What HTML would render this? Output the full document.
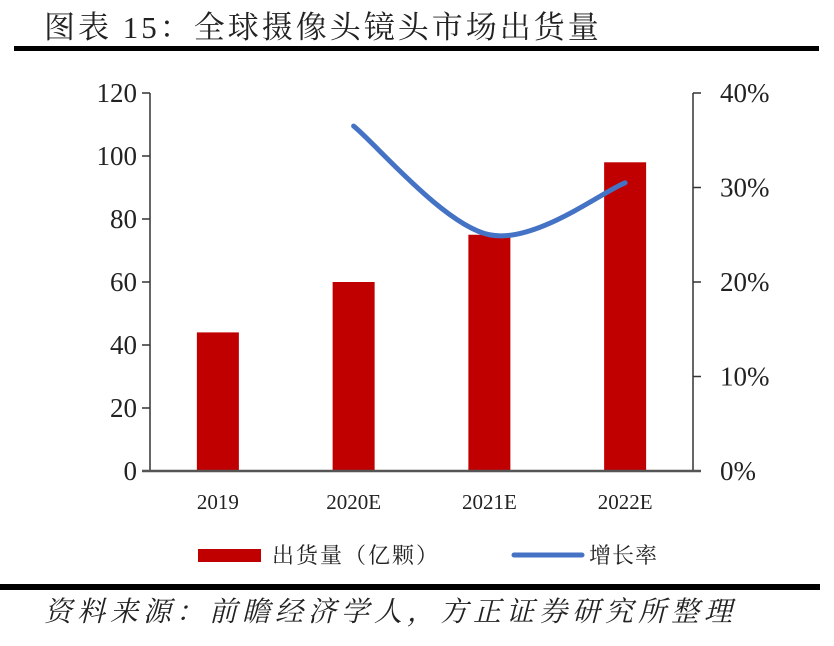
<!DOCTYPE html>
<html><head><meta charset="utf-8"><style>
body{margin:0;background:#fff;width:834px;height:646px;overflow:hidden}
svg{display:block}
</style></head><body>
<svg id="chart" width="834" height="646" font-family="'Liberation Serif','Noto Serif CJK SC',serif">
<text x="44" y="38" font-size="31" letter-spacing="3" fill="#222">图表 15：全球摄像头镜头市场出货量</text>
<rect x="14" y="46" width="805" height="5" fill="#000"/>
<g id="plot"></g>
<rect x="198" y="549" width="63" height="13" fill="#c00000"/>
<text x="272" y="563" font-size="22" letter-spacing="2" fill="#222">出货量（亿颗）</text>
<line x1="514" y1="555" x2="582" y2="555" stroke="#4472c4" stroke-width="5" stroke-linecap="round"/>
<text x="589" y="563" font-size="22" letter-spacing="1" fill="#222">增长率</text>
<rect x="0" y="584" width="820" height="6" fill="#000"/>
<text x="44" y="621" font-size="28" letter-spacing="5" font-style="italic" fill="#222">资料来源：前瞻经济学人，方正证券研究所整理</text>
</svg>
<script>
const categories=["2019","2020E","2021E","2022E"];
const shipments=[44,60,75,98];
const growth=[null,36.5,25,30.5];
const leftTicks=[0,20,40,60,80,100,120];
const rightTicks=[0,10,20,30,40];
const ns="http://www.w3.org/2000/svg";
const g=document.getElementById("plot");
const X0=150,X1=693,Y0=471,Y1=93;
const yL=v=>Y0-(v/120)*(Y0-Y1);
const yR=v=>Y0-(v/40)*(Y0-Y1);
const band=(X1-X0)/categories.length;
const xC=i=>X0+band*(i+0.5);
function mk(t,a){const e=document.createElementNS(ns,t);for(const k in a)e.setAttribute(k,a[k]);g.appendChild(e);return e;}
let e;
e=mk("line",{x1:X0,y1:Y1,x2:X0,y2:Y0,stroke:"#333","stroke-width":1.5});


e=mk("line",{x1:X1,y1:Y1,x2:X1,y2:Y0,stroke:"#333","stroke-width":1.5});


leftTicks.forEach(v=>{
 e=mk("line",{x1:X0-8,y1:yL(v),x2:X0,y2:yL(v),stroke:"#333","stroke-width":1.5});
 
 
 e=mk("text",{x:X0-13,y:yL(v)+9,"font-size":27,"text-anchor":"end",fill:"#222"});e.textContent=v;
 
 
});
rightTicks.forEach(v=>{
 e=mk("line",{x1:X1,y1:yR(v),x2:X1+8,y2:yR(v),stroke:"#333","stroke-width":1.5});
 
 
 e=mk("text",{x:X1+27,y:yR(v)+9,"font-size":27,fill:"#222"});e.textContent=v+"%";
 
 
});
categories.forEach((c,i)=>{
 e=mk("rect",{x:xC(i)-21,y:yL(shipments[i]),width:42,height:Y0-yL(shipments[i]),fill:"#c00000"});
 
 
 e=mk("text",{x:xC(i),y:Y0+38,"font-size":21,"text-anchor":"middle",fill:"#222"});e.textContent=c;
 
 
});
e=mk("line",{x1:X0-8,y1:Y0,x2:X1+8,y2:Y0,stroke:"#555","stroke-width":2.5});


const pts=[];growth.forEach((v,i)=>{if(v!=null)pts.push([xC(i),yR(v)]);});
let d="M"+pts[0][0]+","+pts[0][1];
for(let i=0;i<pts.length-1;i++){
 const p0=pts[i-1]||pts[i],p1=pts[i],p2=pts[i+1],p3=pts[i+2]||p2;
 const c1=[p1[0]+(p2[0]-p0[0])/6,p1[1]+(p2[1]-p0[1])/6],c2=[p2[0]-(p3[0]-p1[0])/6,p2[1]-(p3[1]-p1[1])/6];
 d+=" C"+c1+" "+c2+" "+p2;
}
e=mk("path",{d:d,fill:"none",stroke:"#4472c4","stroke-width":5,"stroke-linecap":"round"});


</script>
</body></html>
